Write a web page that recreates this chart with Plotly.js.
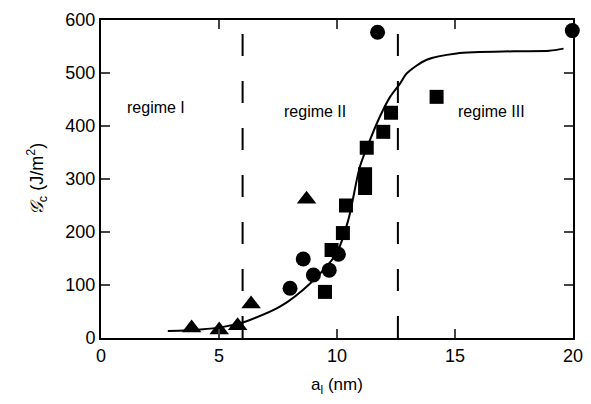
<!DOCTYPE html>
<html><head><meta charset="utf-8">
<script src="https://cdn.plot.ly/plotly-3.0.1.min.js"></script>
<style>html,body{margin:0;padding:0;background:#fff}</style>
</head><body><div id="chart" style="width:591px;height:404px"></div>
<script>
// Data
const triX = [3.84, 5.01, 5.79, 6.36, 8.71];
const triY = [19, 15, 23, 64, 262];
const circX = [8.01, 8.57, 9.0, 9.67, 10.06, 11.72, 19.97];
const circY = [94, 149, 119, 128, 158, 577, 580];
const sqX = [9.49, 9.77, 10.25, 10.38, 11.19, 11.19, 11.26, 11.96, 12.29, 14.22];
const sqY = [87, 166, 198, 250, 283, 309, 359, 389, 425, 455];
const fitX = [2.83, 4.2, 5.18, 5.89, 6.31, 7.58, 8.86, 9.98, 10.48, 10.97, 11.4, 11.82, 12.25, 12.67, 12.95, 13.8, 15.07, 17.5, 19.0, 19.6];
const fitY = [13, 16, 21, 28, 34, 59, 103, 160, 223, 323, 374, 418, 455, 480, 499, 525, 537, 541, 542, 546];
const boundaries = [6, 12.58];
const regimeLabels = ["regime I", "regime II", "regime III"];
const regimeX = [2.31, 9.05, 16.55];
const regimeY = [434, 427, 427];

const font = "Liberation Sans, Arial, sans-serif";
const traces = [
  {x: fitX, y: fitY, mode: "lines", line: {color: "#000", width: 2, shape: "spline", smoothing: 0.8}, hoverinfo: "skip"},
  {x: triX, y: triY, mode: "markers", marker: {symbol: "triangle-up", size: 17, color: "#000"}, cliponaxis: false},
  {x: circX, y: circY, mode: "markers", marker: {symbol: "circle", size: 15, color: "#000"}, cliponaxis: false},
  {x: sqX, y: sqY, mode: "markers", marker: {symbol: "square", size: 14, color: "#000"}, cliponaxis: false}
];
const shapes = boundaries.map(b => ({type: "line", xref: "x", yref: "paper", x0: b, x1: b, y0: 0, y1: 1,
  line: {color: "#000", width: 2, dash: "22px,25px"}}));
const annotations = regimeLabels.map((t, i) => ({x: regimeX[i], y: regimeY[i], text: t, showarrow: false,
  font: {family: font, size: 16, color: "#000"}}));

const layout = {
  width: 591, height: 404,
  margin: {l: 101, r: 18, t: 20, b: 66},
  paper_bgcolor: "#fff", plot_bgcolor: "#fff",
  showlegend: false,
  font: {family: font, size: 18, color: "#000"},
  xaxis: {range: [0, 20], tickvals: [0, 5, 10, 15, 20], ticks: "inside", ticklen: 9, tickwidth: 2,
    showline: true, linewidth: 2, linecolor: "#000", mirror: "ticks", showgrid: false, zeroline: false,
    tickfont: {size: 18},
    title: {text: "a<sub>l</sub> (nm)", font: {size: 17}, standoff: 14}},
  yaxis: {range: [0, 600], tickvals: [0, 100, 200, 300, 400, 500, 600], ticks: "inside", ticklen: 9, tickwidth: 2,
    showline: true, linewidth: 2, linecolor: "#000", mirror: "ticks", showgrid: false, zeroline: false,
    tickfont: {size: 18},
    title: {text: "<i>𝒢</i><sub>c</sub> (J/m<sup>2</sup>)", font: {size: 18}, standoff: 17}},
  shapes: shapes,
  annotations: annotations
};
Plotly.newPlot("chart", traces, layout, {displayModeBar: false, staticPlot: true});
</script></body></html>
